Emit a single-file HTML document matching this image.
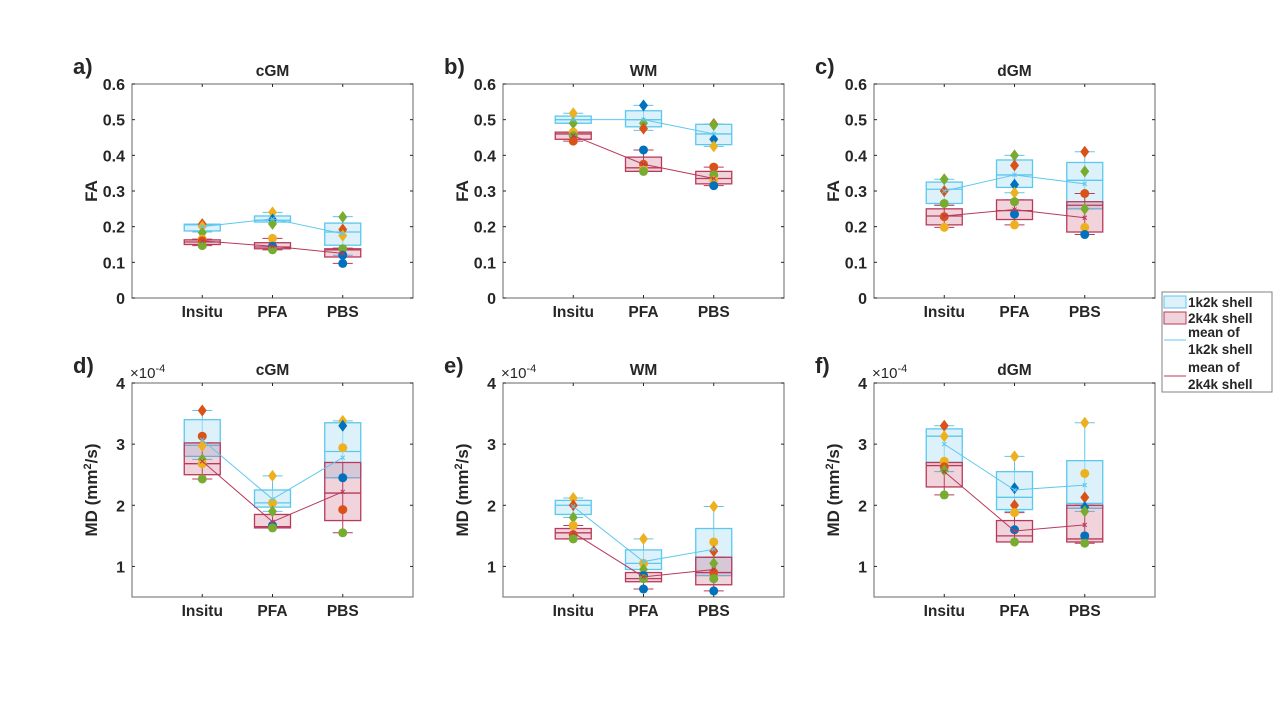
<!DOCTYPE html>
<html><head><meta charset="utf-8"><style>
body{margin:0;background:#fff;}
svg text{font-family:"Liberation Sans","DejaVu Sans",sans-serif;font-weight:bold;fill:#262626;}
</style></head><body>
<svg id="fig" width="1280" height="720" xmlns="http://www.w3.org/2000/svg"></svg>
<script>
const categories = ["Insitu","PFA","PBS"];
const faTicks = [0,0.1,0.2,0.3,0.4,0.5,0.6];
const faTickLabels = ["0","0.1","0.2","0.3","0.4","0.5","0.6"];
const mdTicks = [1,2,3,4];
const mdTickLabels = ["1","2","3","4"];
// boxes: [whiskerLow, q1, median, q3, whiskerHigh]
const boxes1k_a = [[0.185,0.188,0.205,0.207,0.207],[0.213,0.213,0.218,0.23,0.24],[0.12,0.148,0.185,0.21,0.228]];
const boxes2k_a = [[0.147,0.15,0.157,0.163,0.165],[0.135,0.138,0.143,0.155,0.167],[0.097,0.115,0.135,0.138,0.14]];
const means1k_a = [0.2,0.222,0.18];
const means2k_a = [0.16,0.145,0.125];
const points_a = [[0,0.207,1,"d"],[0,0.2,2,"d"],[0,0.183,3,"d"],[0,0.165,2,"o"],[0,0.16,1,"o"],[0,0.147,3,"o"],[1,0.24,2,"d"],[1,0.22,0,"d"],[1,0.208,3,"d"],[1,0.167,2,"o"],[1,0.145,0,"o"],[1,0.135,3,"o"],[2,0.227,3,"d"],[2,0.192,1,"d"],[2,0.175,2,"d"],[2,0.138,3,"o"],[2,0.12,0,"o"],[2,0.097,0,"o"]];

const boxes1k_b = [[0.49,0.49,0.5,0.51,0.518],[0.47,0.48,0.5,0.525,0.54],[0.425,0.43,0.46,0.487,0.488]];
const boxes2k_b = [[0.44,0.445,0.46,0.465,0.465],[0.355,0.355,0.365,0.395,0.415],[0.315,0.32,0.335,0.355,0.367]];
const means1k_b = [0.5,0.5,0.46];
const means2k_b = [0.455,0.375,0.335];
const points_b = [[0,0.518,2,"d"],[0,0.49,3,"d"],[0,0.465,2,"o"],[0,0.455,3,"o"],[0,0.44,1,"o"],[1,0.54,0,"d"],[1,0.49,3,"d"],[1,0.475,1,"d"],[1,0.415,0,"o"],[1,0.375,1,"o"],[1,0.36,2,"o"],[1,0.355,3,"o"],[2,0.488,1,"d"],[2,0.485,3,"d"],[2,0.445,0,"d"],[2,0.425,2,"d"],[2,0.367,1,"o"],[2,0.345,3,"o"],[2,0.33,2,"o"],[2,0.315,0,"o"]];

const boxes1k_c = [[0.26,0.265,0.305,0.325,0.333],[0.295,0.31,0.345,0.387,0.4],[0.25,0.25,0.33,0.38,0.41]];
const boxes2k_c = [[0.198,0.205,0.23,0.25,0.26],[0.205,0.22,0.245,0.275,0.275],[0.178,0.185,0.26,0.27,0.293]];
const means1k_c = [0.3,0.345,0.32];
const means2k_c = [0.23,0.248,0.225];
const points_c = [[0,0.333,3,"d"],[0,0.3,1,"d"],[0,0.265,3,"o"],[0,0.228,1,"o"],[0,0.198,2,"o"],[1,0.4,3,"d"],[1,0.372,1,"d"],[1,0.318,0,"d"],[1,0.295,2,"d"],[1,0.27,3,"o"],[1,0.235,0,"o"],[1,0.205,2,"o"],[2,0.41,1,"d"],[2,0.355,3,"d"],[2,0.293,1,"o"],[2,0.25,3,"d"],[2,0.198,2,"o"],[2,0.178,0,"o"]];

const boxes1k_d = [[2.75,2.8,2.98,3.4,3.55],[1.9,1.97,2.04,2.25,2.48],[2.45,2.45,2.88,3.35,3.38]];
const boxes2k_d = [[2.43,2.5,2.68,3.02,3.02],[1.63,1.63,1.65,1.85,1.85],[1.55,1.75,2.2,2.7,2.7]];
const means1k_d = [3.07,2.1,2.78];
const means2k_d = [2.72,1.73,2.22];
const points_d = [[0,3.55,1,"d"],[0,3.13,1,"o"],[0,2.97,2,"d"],[0,2.75,3,"d"],[0,2.68,2,"o"],[0,2.43,3,"o"],[1,2.48,2,"d"],[1,2.04,2,"o"],[1,1.9,3,"d"],[1,1.67,0,"o"],[1,1.63,3,"o"],[2,3.38,2,"d"],[2,3.3,0,"d"],[2,2.94,2,"o"],[2,2.45,0,"o"],[2,1.93,1,"o"],[2,1.55,3,"o"]];

const boxes1k_e = [[1.8,1.85,2.0,2.08,2.12],[0.95,0.95,1.05,1.27,1.45],[0.85,0.85,1.15,1.62,1.98]];
const boxes2k_e = [[1.45,1.45,1.55,1.62,1.67],[0.63,0.75,0.8,0.9,0.9],[0.6,0.7,0.9,1.15,1.15]];
const means1k_e = [1.98,1.08,1.28];
const means2k_e = [1.55,0.83,0.95];
const points_e = [[0,2.12,2,"d"],[0,2.0,1,"d"],[0,1.8,3,"d"],[0,1.67,2,"o"],[0,1.52,1,"o"],[0,1.45,3,"o"],[1,1.45,2,"d"],[1,1.05,2,"o"],[1,0.95,3,"d"],[1,0.85,0,"o"],[1,0.8,3,"o"],[1,0.63,0,"o"],[2,1.98,2,"d"],[2,1.4,2,"o"],[2,1.25,1,"d"],[2,1.05,3,"d"],[2,0.9,1,"o"],[2,0.8,3,"o"],[2,0.6,0,"o"]];

const boxes1k_f = [[2.55,2.7,3.13,3.25,3.3],[1.9,1.93,2.13,2.55,2.8],[1.9,1.95,2.03,2.73,3.35]];
const boxes2k_f = [[2.17,2.3,2.65,2.7,2.7],[1.4,1.4,1.5,1.75,1.88],[1.38,1.4,1.45,2.0,2.0]];
const means1k_f = [3.0,2.25,2.33];
const means2k_f = [2.55,1.58,1.68];
const points_f = [[0,3.3,1,"d"],[0,3.13,2,"d"],[0,2.72,2,"o"],[0,2.63,1,"o"],[0,2.57,3,"d"],[0,2.17,3,"o"],[1,2.8,2,"d"],[1,2.28,0,"d"],[1,2.0,1,"d"],[1,1.88,2,"o"],[1,1.6,0,"o"],[1,1.4,3,"o"],[2,3.35,2,"d"],[2,2.52,2,"o"],[2,2.13,1,"d"],[2,1.97,0,"d"],[2,1.9,3,"d"],[2,1.5,0,"o"],[2,1.38,3,"o"]];

const NS="http://www.w3.org/2000/svg";
const svg=document.getElementById("fig");
const ptColors=["#0072bd","#d95319","#edb120","#77ac30"];
function mk(tag,attrs,parent){const e=document.createElementNS(NS,tag);for(const k in attrs)e.setAttribute(k,attrs[k]);(parent||svg).appendChild(e);return e;}

const panels=[
 {id:"a",L:132,T:84,title:"cGM",ylab:"FA",kind:"fa",b1:boxes1k_a,b2:boxes2k_a,m1:means1k_a,m2:means2k_a,pts:points_a},
 {id:"b",L:503,T:84,title:"WM",ylab:"FA",kind:"fa",b1:boxes1k_b,b2:boxes2k_b,m1:means1k_b,m2:means2k_b,pts:points_b},
 {id:"c",L:874,T:84,title:"dGM",ylab:"FA",kind:"fa",b1:boxes1k_c,b2:boxes2k_c,m1:means1k_c,m2:means2k_c,pts:points_c},
 {id:"d",L:132,T:383,title:"cGM",ylab:"MD",kind:"md",b1:boxes1k_d,b2:boxes2k_d,m1:means1k_d,m2:means2k_d,pts:points_d},
 {id:"e",L:503,T:383,title:"WM",ylab:"MD",kind:"md",b1:boxes1k_e,b2:boxes2k_e,m1:means1k_e,m2:means2k_e,pts:points_e},
 {id:"f",L:874,T:383,title:"dGM",ylab:"MD",kind:"md",b1:boxes1k_f,b2:boxes2k_f,m1:means1k_f,m2:means2k_f,pts:points_f}
];
const W=281,H=214;
panels.forEach(p=>{
 const g=mk("g",{});
 
 
 const ymin=p.kind==="fa"?0:0.5, ymax=p.kind==="fa"?0.6:4;
 const ys=v=>p.T+H-(v-ymin)/(ymax-ymin)*H;
 const xs=i=>p.L+(i+1)*W/4;
 const axes=mk("rect",{x:p.L,y:p.T,width:W,height:H,fill:"#fff",stroke:"#808080","stroke-width":1.2},g);
 
 
 const ticks=p.kind==="fa"?faTicks:mdTicks, tl=p.kind==="fa"?faTickLabels:mdTickLabels;
 ticks.forEach((t,i)=>{
  const y=ys(t);
  mk("line",{x1:p.L,x2:p.L+3,y1:y,y2:y,stroke:"#262626"},g);
  mk("line",{x1:p.L+W-3,x2:p.L+W,y1:y,y2:y,stroke:"#262626"},g);
  const tx=mk("text",{x:p.L-7,y:y+6,"text-anchor":"end","font-size":16},g);tx.textContent=tl[i];
  
  
 });
 categories.forEach((c,i)=>{
  mk("line",{x1:xs(i),x2:xs(i),y1:p.T+H,y2:p.T+H-3,stroke:"#262626"},g);
  mk("line",{x1:xs(i),x2:xs(i),y1:p.T,y2:p.T+3,stroke:"#262626"},g);
  const tx=mk("text",{x:xs(i),y:p.T+H+19,"text-anchor":"middle","font-size":15.5},g);tx.textContent=c;
  
  
 });
 const tt=mk("text",{x:p.L+W/2,y:p.T-8,"text-anchor":"middle","font-size":15.5},g);tt.textContent=p.title;
 
 
 const pl=mk("text",{x:p.L-59,y:p.T-10,"font-size":22},g);pl.textContent=p.id+")";
 
 
 const yl=mk("text",{x:0,y:0,"text-anchor":"middle","font-size":17,transform:`translate(${p.L-35},${p.T+H/2}) rotate(-90)`},g);
 
 
 if(p.kind==="fa"){yl.textContent="FA";}
 else{yl.innerHTML='MD (mm<tspan dy="-6" font-size="11">2</tspan><tspan dy="6">/s)</tspan>';
  const ex=mk("text",{x:p.L-2,y:p.T-5,"font-size":15},g);
  ex.innerHTML='×10<tspan dy="-6" font-size="11">-4</tspan>';
  ex.style.fontWeight="normal";
  
  
 }
 const series=[{b:p.b1,m:p.m1,fill:"#bfe6f5",fo:0.55,st:"#5bc8ef",name:"1k2k"},{b:p.b2,m:p.m2,fill:"#c8506e",fo:0.25,st:"#b83a5a",name:"2k4k"}];
 series.forEach(s=>{
  s.b.forEach((bx,i)=>{
   const x=xs(i),bw=36,cw=20;
   mk("line",{x1:x,x2:x,y1:ys(bx[0]),y2:ys(bx[4]),stroke:s.st},g);
   mk("line",{x1:x-cw/2,x2:x+cw/2,y1:ys(bx[0]),y2:ys(bx[0]),stroke:s.st},g);
   mk("line",{x1:x-cw/2,x2:x+cw/2,y1:ys(bx[4]),y2:ys(bx[4]),stroke:s.st},g);
   const r=mk("rect",{x:x-bw/2,y:ys(bx[3]),width:bw,height:Math.max(1,ys(bx[1])-ys(bx[3])),fill:s.fill,"fill-opacity":s.fo,stroke:s.st,"stroke-width":1.3},g);
   
   
   mk("line",{x1:x-bw/2,x2:x+bw/2,y1:ys(bx[2]),y2:ys(bx[2]),stroke:s.st,"stroke-width":1.3},g);
  });
 });
 p.pts.forEach(pt=>{
  const x=xs(pt[0]),y=ys(pt[1]),col=ptColors[pt[2]];
  let e;
  if(pt[3]==="o") e=mk("circle",{cx:x,cy:y,r:4.5,fill:col},g);
  else e=mk("polygon",{points:`${x},${y-6} ${x+4.5},${y} ${x},${y+6} ${x-4.5},${y}`,fill:col},g);
  
  
 });
 series.forEach(s=>{
  const pl2=mk("polyline",{points:s.m.map((v,i)=>`${xs(i)},${ys(v)}`).join(" "),fill:"none",stroke:s.st,"stroke-width":1},g);
  
  
  s.m.forEach((v,i)=>{const x=xs(i),y=ys(v);mk("path",{d:`M${x-2},${y-2}L${x+2},${y+2}M${x-2},${y+2}L${x+2},${y-2}`,stroke:s.st,"stroke-width":1},g);});
 });
});
// legend
const lg=mk("g",{});


mk("rect",{x:1162,y:292,width:110,height:100,fill:"#fff",stroke:"#808080"},lg);
mk("rect",{x:1164,y:296,width:22,height:12,fill:"#dff1f8",stroke:"#5bc8ef"},lg);
mk("rect",{x:1164,y:312,width:22,height:12,fill:"#f0d3da",stroke:"#b83a5a"},lg);
mk("line",{x1:1164,x2:1186,y1:340,y2:340,stroke:"#5bc8ef"},lg);
mk("line",{x1:1164,x2:1186,y1:376,y2:376,stroke:"#b83a5a"},lg);
const legTexts=[["1k2k shell",307],["2k4k shell",323],["mean of",337],["1k2k shell",354],["mean of",372],["2k4k shell",389]];
legTexts.forEach(t=>{const e=mk("text",{x:1188,y:t[1],"font-size":13.5},lg);e.textContent=t[0];
 
 });
</script>
</body></html>
